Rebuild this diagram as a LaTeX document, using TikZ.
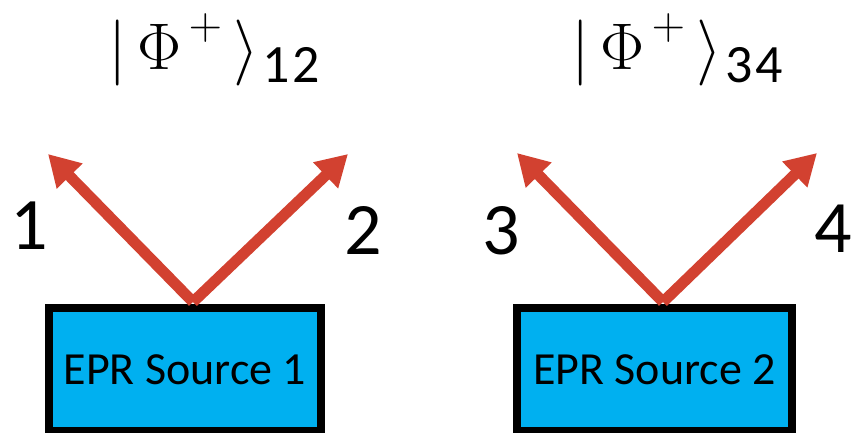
\documentclass[tikz,border=0pt]{standalone}
\usepackage{fix-cm}
\usepackage{fontspec}
\setmainfont{Carlito}
\usetikzlibrary{arrows.meta}
\definecolor{srcblue}{HTML}{00B0F0}
\definecolor{photred}{HTML}{D24130}
\tikzset{
  source/.style={draw=black, line width=8pt, fill=srcblue, minimum width=272pt,
    minimum height=123pt, inner sep=0pt, font=\fontsize{46}{50}\selectfont},
  photon/.style={draw=photred, line width=11pt, line join=miter,
    -{Triangle[length=31pt,width=34pt]}},
  portlabel/.style={font=\fontsize{74}{80}\selectfont, inner sep=0pt},
  ketlabel/.style={font=\fontsize{66}{70}\selectfont, inner sep=0pt, anchor=base west}
}
% Bell state |Phi+> with a pair of photon indices
\newcommand{\bellket}[2]{$|\mkern3mu\Phi\mkern2mu\raise30pt\hbox{\fontsize{46}{46}\selectfont$+$}\mkern3mu\rangle\mkern1mu_{\hbox{\fontsize{54}{54}\selectfont #1\kern3pt#2}}$}
\begin{document}
\begin{tikzpicture}[x=1pt,y=-1pt]
\useasboundingbox (0,0) rectangle (853,433);
% sources
\node[source] (s1) at (185,369.5) {EPR Source 1};
\node[source, minimum width=275pt] (s2) at (654.5,369.5) {EPR Source 2};
% emission points and photon directions
\coordinate (e1) at (193,302);
\coordinate (e2) at (663,302);
\coordinate (p1) at (48,154);
\coordinate (p2) at (348,154);
\coordinate (p3) at (517,153);
\coordinate (p4) at (817,153);
\draw[photon] (e1) -- (p1);
\draw[photon] (e1) -- (p2);
\draw[photon] (e2) -- (p3);
\draw[photon] (e2) -- (p4);
% photon labels
\node[portlabel] (l1) at (29,226) {1};
\node[portlabel] (l2) at (363,230) {2};
\node[portlabel] (l3) at (501,231) {3};
\node[portlabel] (l4) at (833,229) {4};
% entangled states
\node[ketlabel] (k12) at (108,70) {\bellket{1}{2}};
\node[ketlabel] (k34) at (571,70) {\bellket{3}{4}};
\end{tikzpicture}
\end{document}
